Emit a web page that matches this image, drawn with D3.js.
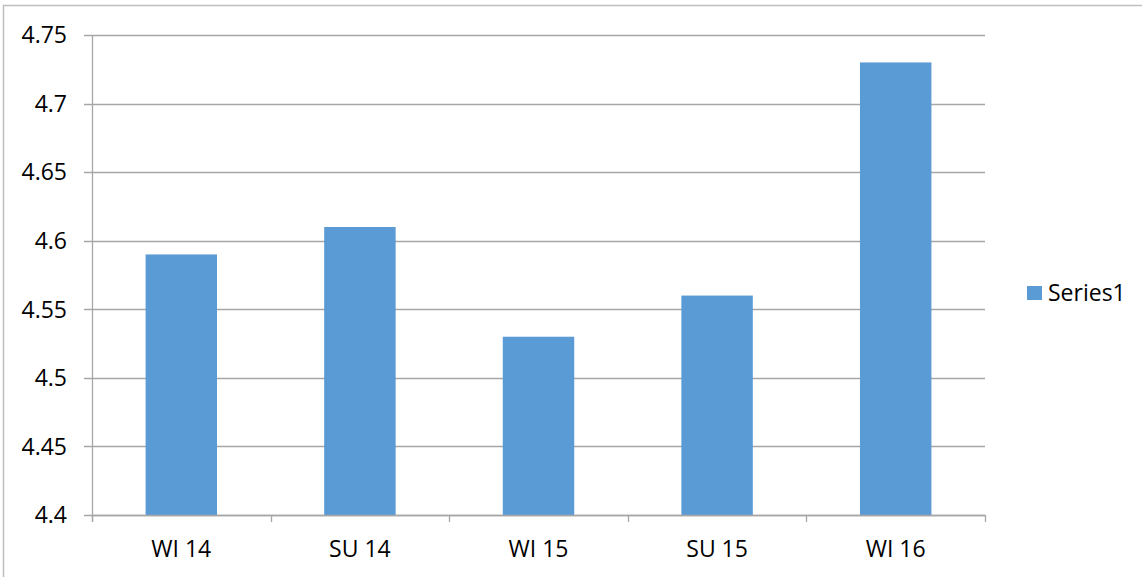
<!DOCTYPE html>
<html><head><meta charset="utf-8">
<script src="https://cdn.jsdelivr.net/npm/d3@7"></script>
<style>html,body{margin:0;padding:0;background:#fff;}svg{display:block;font-family:"Open Sans",sans-serif;}</style>
</head><body>
<svg id="c" width="1142" height="577"></svg>
<script>
const categories = ["WI 14","SU 14","WI 15","SU 15","WI 16"];
const values = [4.59, 4.61, 4.53, 4.56, 4.73];
const yTicks = [4.4, 4.45, 4.5, 4.55, 4.6, 4.65, 4.7, 4.75];
const seriesName = "Series1";

(function(){
const svg = d3.select("#c");
const pL = 92, pR = 985, pT = 35, pB = 515;
const fs = 23;

svg.append("rect").attr("x",3.5).attr("y",5.5).attr("width",1142).attr("height",600)
  .attr("fill","none").attr("stroke","#BFBFBF").attr("stroke-width",1.5);

const x = d3.scaleBand().domain(categories).range([pL,pR]).paddingInner(0.6).paddingOuter(0.3);
const y = d3.scaleLinear().domain([4.4,4.75]).range([pB,pT]);

svg.append("g").selectAll("line").data(yTicks).join("line")
  .attr("x1",pL-8).attr("x2",pR)
  .attr("y1",d=>Math.round(y(d))+0.5).attr("y2",d=>Math.round(y(d))+0.5)
  .attr("stroke","#A6A6A6").attr("stroke-width",1.3);

svg.append("g").selectAll("text").data(yTicks).join("text")
  .attr("x",67).attr("y",d=>y(d)).attr("dy","0.36em").attr("text-anchor","end")
  .attr("font-size",fs).attr("fill","#000").text(d=>d3.format("")(d));

svg.append("g").selectAll("rect").data(values).join("rect")
  .attr("x",(d,i)=>x(categories[i])).attr("width",x.bandwidth())
  .attr("y",d=>y(d)).attr("height",d=>pB-y(d)).attr("fill","#5B9BD5");

svg.append("line").attr("x1",pL+0.5).attr("x2",pL+0.5).attr("y1",pT).attr("y2",pB+7)
  .attr("stroke","#A6A6A6").attr("stroke-width",1.3);
svg.append("line").attr("x1",pL).attr("x2",pR).attr("y1",pB+0.5).attr("y2",pB+0.5)
  .attr("stroke","#A6A6A6").attr("stroke-width",1.3);
const sep = d3.range(categories.length+1).map(i=>pL+i*(pR-pL)/categories.length);
svg.append("g").selectAll("line").data(sep).join("line")
  .attr("x1",d=>Math.round(d)+0.5).attr("x2",d=>Math.round(d)+0.5).attr("y1",pB).attr("y2",pB+7)
  .attr("stroke","#A6A6A6").attr("stroke-width",1.3);

svg.append("g").selectAll("text").data(categories).join("text")
  .attr("x",d=>x(d)+x.bandwidth()/2).attr("y",548.5).attr("dy","0.36em").attr("text-anchor","middle")
  .attr("font-size",fs).attr("fill","#000").text(d=>d);

svg.append("rect").attr("x",1027).attr("y",286).attr("width",15).attr("height",14).attr("fill","#5B9BD5");
svg.append("text").attr("x",1048).attr("y",293).attr("dy","0.36em").attr("font-size",fs).attr("fill","#000").text(seriesName);
})();
</script>
</body></html>
